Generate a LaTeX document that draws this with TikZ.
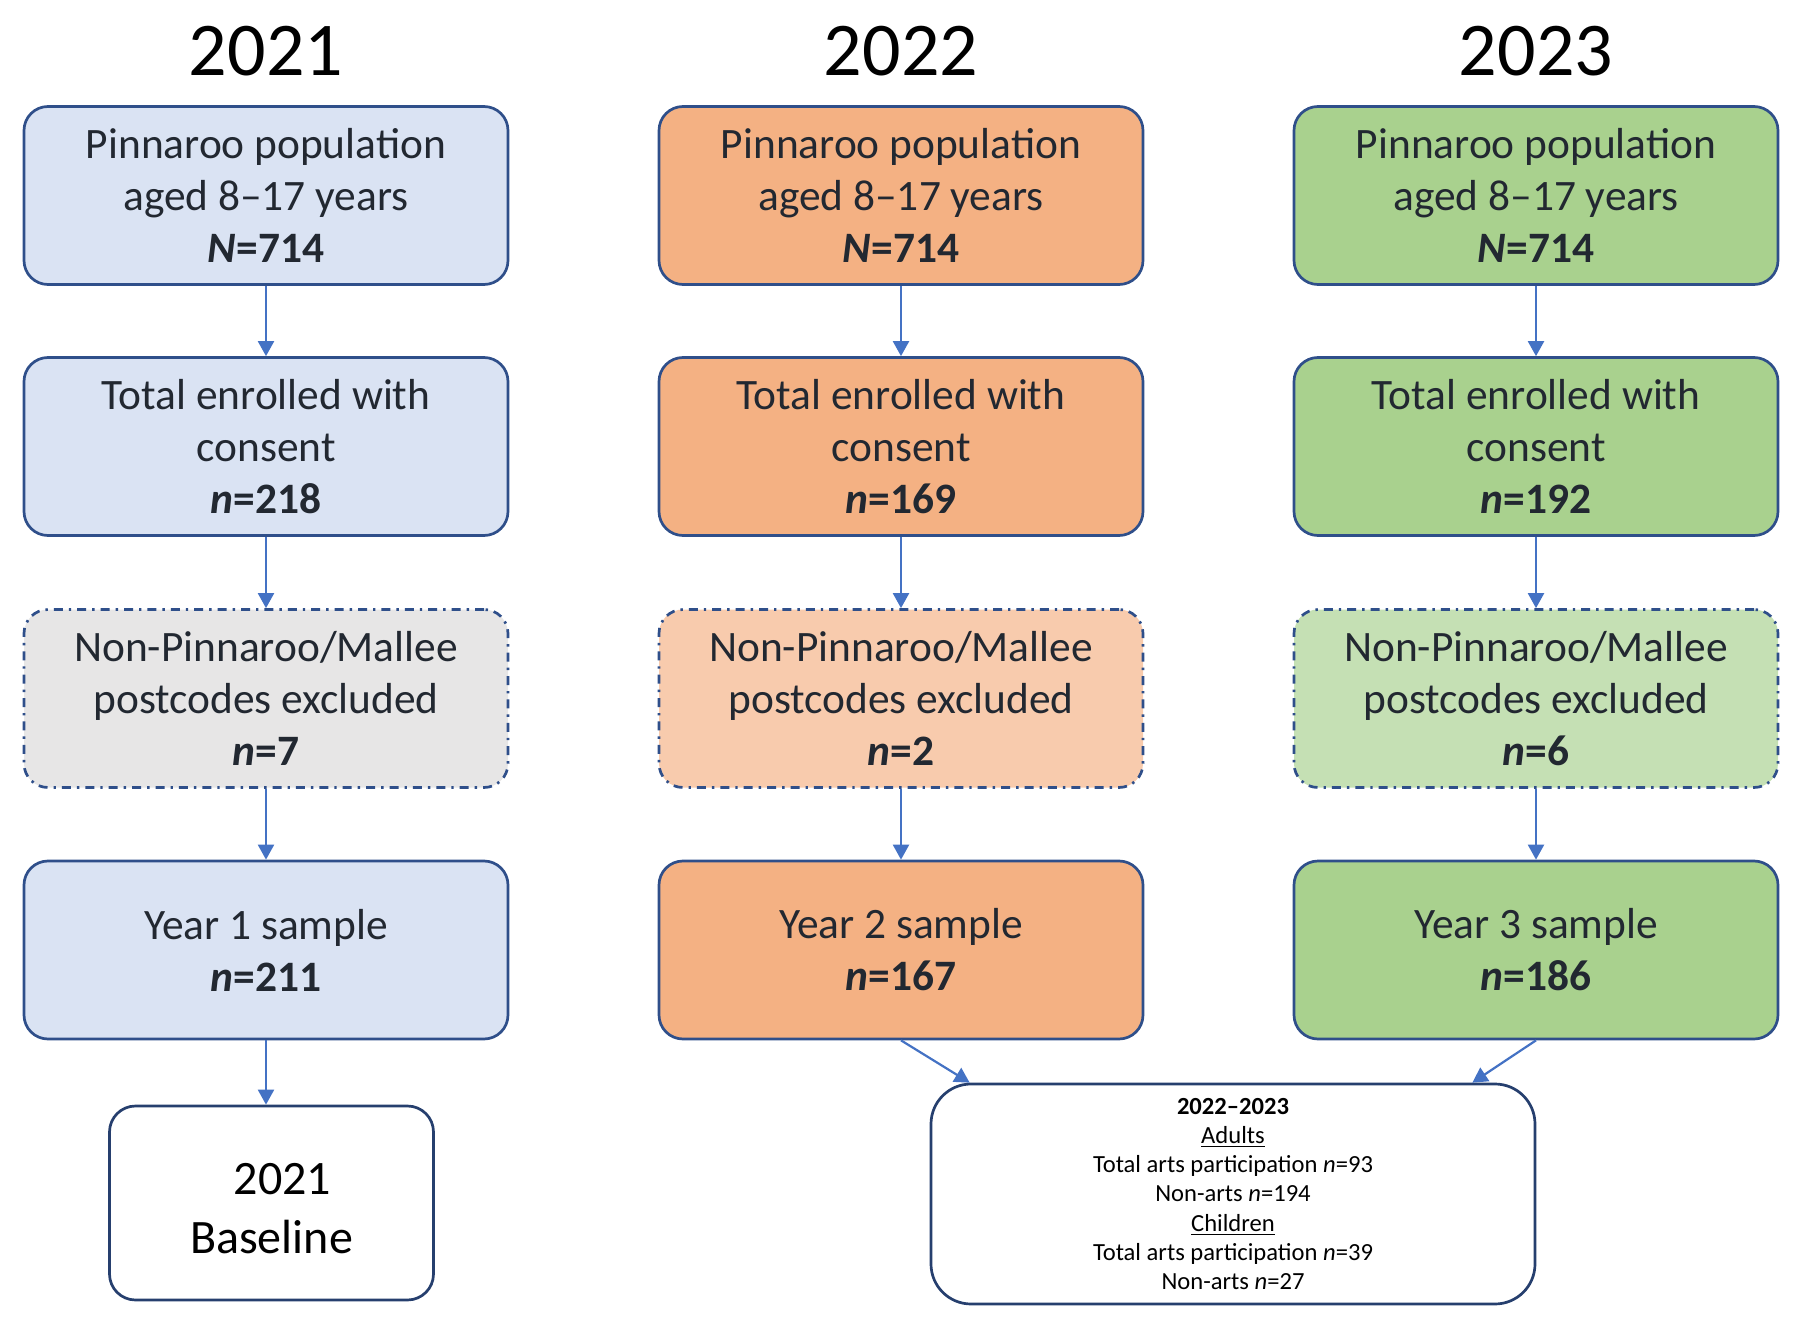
\documentclass[tikz,border=0pt]{standalone}
\usepackage{fontspec}
\setmainfont{Carlito}
\usetikzlibrary{arrows.meta,calc}
\definecolor{bordc}{HTML}{2F4F8A}
\definecolor{arrc}{HTML}{4472C4}
\definecolor{txtc}{HTML}{222831}
\definecolor{bluef}{HTML}{DAE3F3}
\definecolor{greyf}{HTML}{E7E6E6}
\definecolor{orf}{HTML}{F4B183}
\definecolor{orlf}{HTML}{F8CBAD}
\definecolor{grf}{HTML}{A9D18E}
\definecolor{grlf}{HTML}{C5E0B4}
\begin{document}
\begin{tikzpicture}[x=0.5pt,y=-0.5pt,
  box/.style={draw=bordc, line width=1.35pt, rounded corners=12pt, minimum width=242pt, minimum height=89pt, align=center, font=\fontsize{21.7}{26}\selectfont, text=txtc, inner sep=0pt},
  dbox/.style={box, dash pattern=on 4.5pt off 3pt on 1.2pt off 3pt},
  endbox/.style={draw=bordc!80!black, line width=1.35pt, fill=white, align=center, text=black, inner sep=0pt},
  title/.style={font=\fontsize{38}{46}\selectfont, text=black},
  arr/.style={draw=arrc, line width=1.1pt, -{Triangle[length=7.5pt,width=8pt]}}]
\useasboundingbox (0,0) rectangle (1800,1337);
% titles
\node[title] (t1) at (266,51) {2021};
\node[title] (t2) at (901,51) {2022};
\node[title] (t3) at (1536,51) {2023};
% column 1
\node[box, fill=bluef] (a1) at (266,195.5) {Pinnaroo population\\aged 8–17 years\\\textbf{\textit{N}=714}};
\node[box, fill=bluef] (a2) at (266,446.5) {Total enrolled with\\consent\\\textbf{\textit{n}=218}};
\node[dbox, fill=greyf] (a3) at (266,698.5) {Non-Pinnaroo/Mallee\\postcodes excluded\\\textbf{\textit{n}=7}};
\node[box, fill=bluef] (a4) at (266,950) {Year 1 sample\\\textbf{\textit{n}=211}};
% column 2
\node[box, fill=orf] (b1) at (901,195.5) {Pinnaroo population\\aged 8–17 years\\\textbf{\textit{N}=714}};
\node[box, fill=orf] (b2) at (901,446.5) {Total enrolled with\\consent\\\textbf{\textit{n}=169}};
\node[dbox, fill=orlf] (b3) at (901,698.5) {Non-Pinnaroo/Mallee\\postcodes excluded\\\textbf{\textit{n}=2}};
\node[box, fill=orf] (b4) at (901,950) {Year 2 sample\\\textbf{\textit{n}=167}};
% column 3
\node[box, fill=grf] (c1) at (1536,195.5) {Pinnaroo population\\aged 8–17 years\\\textbf{\textit{N}=714}};
\node[box, fill=grf] (c2) at (1536,446.5) {Total enrolled with\\consent\\\textbf{\textit{n}=192}};
\node[dbox, fill=grlf] (c3) at (1536,698.5) {Non-Pinnaroo/Mallee\\postcodes excluded\\\textbf{\textit{n}=6}};
\node[box, fill=grf] (c4) at (1536,950) {Year 3 sample\\\textbf{\textit{n}=186}};
% bottom boxes
\node[endbox, rounded corners=13pt, minimum width=162pt, minimum height=97pt, font=\fontsize{24}{29.5}\selectfont] (base) at (271.5,1203) {};
\node[font=\fontsize{24}{29.5}\selectfont, align=center, inner sep=0pt] (basetxt) at ($(base.center)+(0,6)$) {\ \ 2021\\Baseline};
\node[endbox, rounded corners=20pt, minimum width=302pt, minimum height=110pt, font=\fontsize{12.3}{14.65}\selectfont] (sum) at (1233,1194)
  {\textbf{2022–2023}\\\underline{Adults}\\Total arts participation \textit{n}=93\\Non-arts \textit{n}=194\\\underline{Children}\\Total arts participation \textit{n}=39\\Non-arts \textit{n}=27};
\coordinate (sumL) at ($(sum.north west)+(40,0)$);
\coordinate (sumR) at ($(sum.north east)+(-64,0)$);
% arrows
\foreach \col in {a,b,c}{
  \draw[arr] (\col1.south) -- (\col2.north);
  \draw[arr] (\col2.south) -- (\col3.north);
  \draw[arr] (\col3.south) -- (\col4.north);
}
\draw[arr] (a4.south) -- (a4.south |- base.north);
\draw[arr] (b4.south) -- (sumL);
\draw[arr] (c4.south) -- (sumR);
\end{tikzpicture}
\end{document}
